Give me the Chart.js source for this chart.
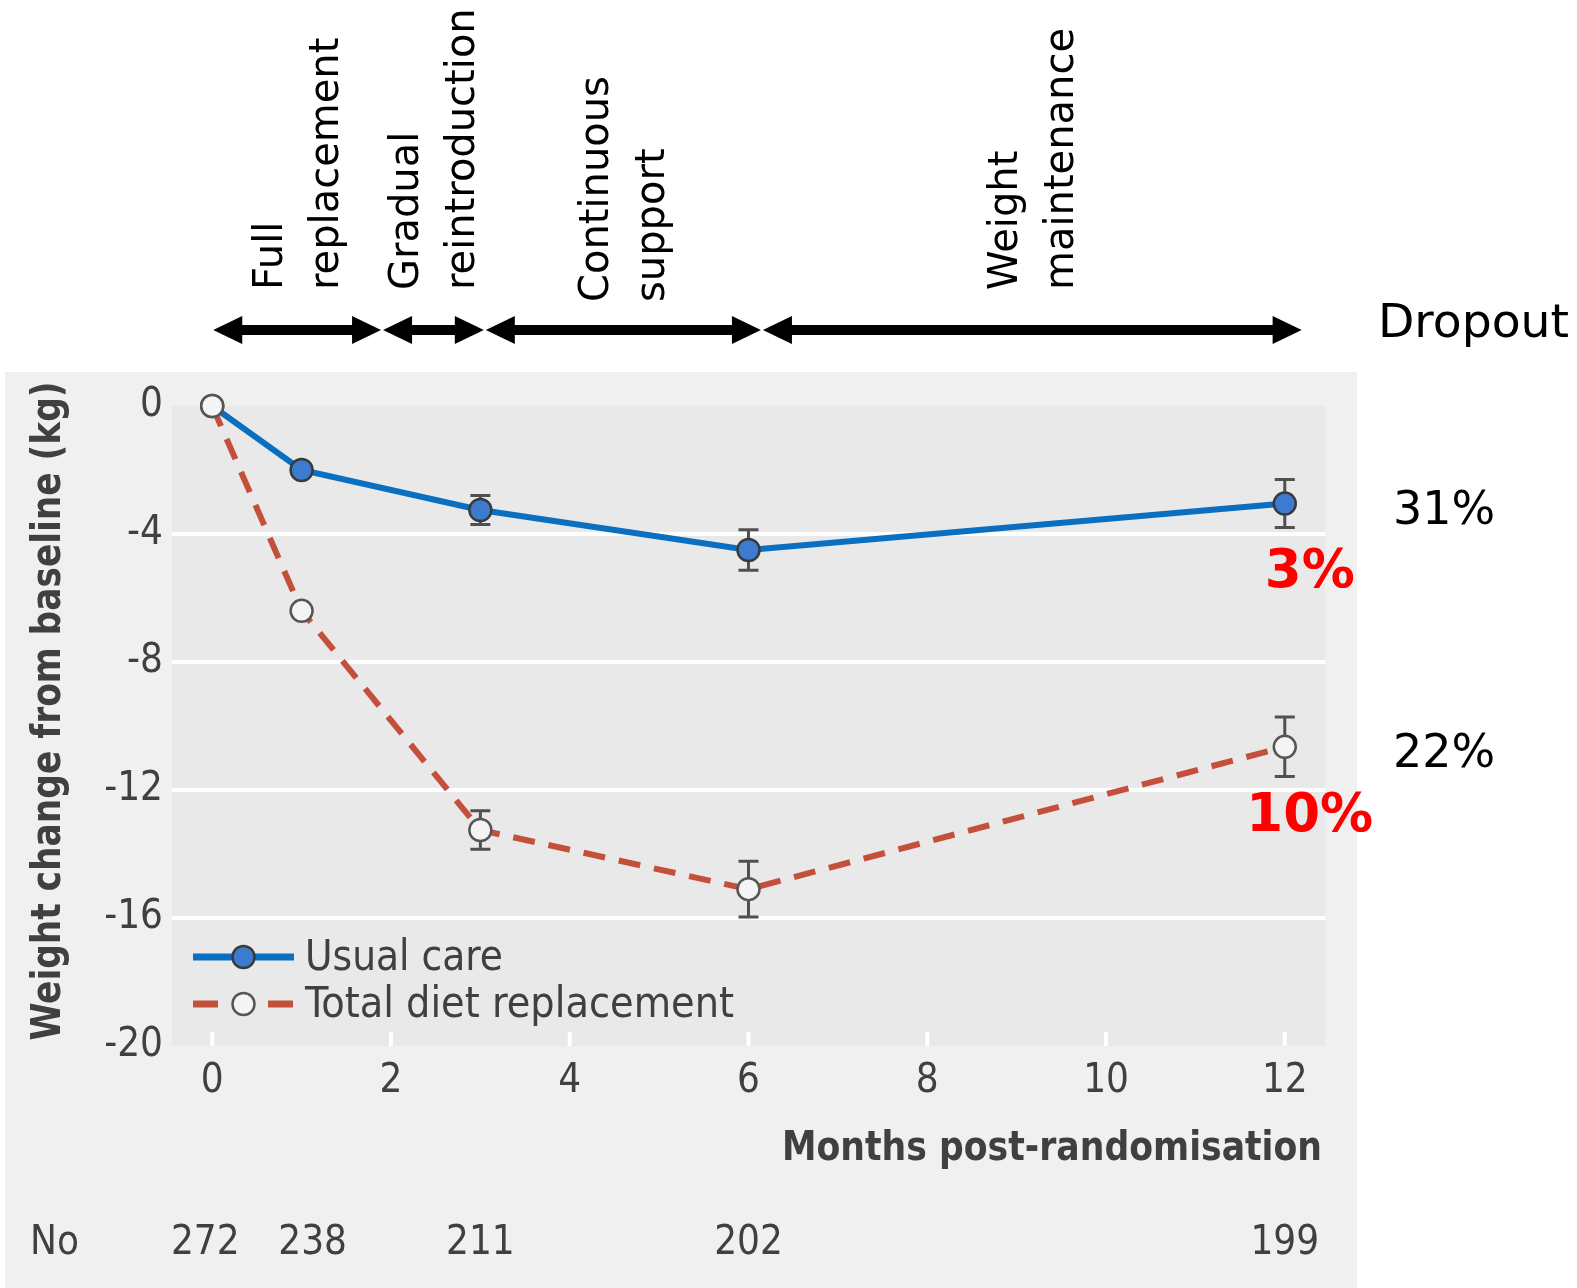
<!DOCTYPE html>
<html>
<head>
<meta charset="utf-8">
<script src="https://cdn.jsdelivr.net/npm/chart.js@4.4.1/dist/chart.umd.min.js"></script>
<style>
  html, body { margin: 0; padding: 0; background: #fff; }
</style>
</head>
<body>
<canvas id="weightChart" width="1577" height="1288"></canvas>
<script>
// values
const months = [0, 1, 3, 6, 12];
const xTicks = [0, 2, 4, 6, 8, 10, 12];
const yTicks = [0, -4, -8, -12, -16, -20];
const usualCare = [0, -2.0, -3.25, -4.5, -3.05];
const usualCareErr = [0, 0.15, 0.45, 0.63, 0.75];
const totalDiet = [0, -6.4, -13.25, -15.1, -10.65];
const totalDietErr = [0, 0.15, 0.6, 0.87, 0.93];
const numberAtRisk = [272, 238, 211, 202, 199];
const seriesNames = ['Usual care', 'Total diet replacement'];
const phaseNames = [['Full', 'replacement'], ['Gradual', 'reintroduction'], ['Continuous', 'support'], ['Weight', 'maintenance']];
const phaseBounds = [0, 1.9, 3.05, 6.15, 12.2];
const dropoutAll = ['31%', '22%'];
const dropoutRed = ['3%', '10%'];

const GREY_TEXT = '#404040';
const COND = '"DejaVu Sans Condensed", "DejaVu Sans", sans-serif';
const BLUE = '#0a6fc0';
const RED = '#c4503c';

function fitText(ctx, text, x, y, width, align) {
    const w = ctx.measureText(text).width;
    ctx.save();
    ctx.translate(x, y);
    ctx.scale(width / w, 1);
    ctx.textAlign = align;
    ctx.fillText(text, 0, 0);
    ctx.restore();
}

function drawMarker(ctx, x, y, filled) {
    ctx.save();
    ctx.beginPath();
    ctx.arc(x, y, 11, 0, Math.PI * 2);
    ctx.fillStyle = filled ? '#3d7bd0' : '#f4f4f4';
    ctx.fill();
    ctx.lineWidth = 2.5;
    ctx.strokeStyle = filled ? '#3a3a3a' : '#555';
    ctx.stroke();
    ctx.restore();
}

const decor = {
    id: 'decor',
    beforeDraw(chart) {
        const {ctx, chartArea: a} = chart;
        ctx.save();
        ctx.fillStyle = '#fff';
        ctx.fillRect(0, 0, chart.width, chart.height);
        ctx.fillStyle = '#f0f0f0';
        ctx.fillRect(5, 372, 1352, 916);
        ctx.fillStyle = '#e9e9e9';
        ctx.fillRect(a.left, a.top, a.right - a.left, a.bottom - a.top);
        ctx.restore();
    },
    beforeDatasetsDraw(chart) {
        const {ctx, chartArea: a, scales: {x, y}} = chart;
        ctx.save();
        // white tick marks at the bottom of the plot
        ctx.fillStyle = '#fff';
        xTicks.forEach(t => {
            const px = x.getPixelForValue(t);
            ctx.fillRect(px - 2, a.bottom - 14, 4, 14);
        });
        // error bars
        const sets = [[usualCare, usualCareErr], [totalDiet, totalDietErr]];
        ctx.strokeStyle = '#505050';
        ctx.lineWidth = 3;
        sets.forEach(([vals, errs]) => {
            months.forEach((m, j) => {
                if (!errs[j]) return;
                const px = x.getPixelForValue(m);
                const top = y.getPixelForValue(vals[j] + errs[j]);
                const bot = y.getPixelForValue(vals[j] - errs[j]);
                ctx.beginPath();
                ctx.moveTo(px, top); ctx.lineTo(px, bot);
                ctx.moveTo(px - 10, top); ctx.lineTo(px + 10, top);
                ctx.moveTo(px - 10, bot); ctx.lineTo(px + 10, bot);
                ctx.stroke();
            });
        });
        ctx.restore();
    },
    afterDraw(chart) {
        const {ctx, chartArea: a, scales: {x, y}} = chart;
        ctx.save();

        // legend
        const rows = [a.bottom - 89, a.bottom - 42];
        const lx0 = a.left + 21, lx1 = a.left + 122;
        ctx.lineWidth = 7;
        ctx.strokeStyle = BLUE;
        ctx.beginPath(); ctx.moveTo(lx0, rows[0]); ctx.lineTo(lx1, rows[0]); ctx.stroke();
        drawMarker(ctx, (lx0 + lx1) / 2, rows[0], true);
        ctx.lineWidth = 7;
        ctx.strokeStyle = RED;
        ctx.setLineDash([25, 50]);
        ctx.beginPath(); ctx.moveTo(lx0, rows[1]); ctx.lineTo(lx1, rows[1]); ctx.stroke();
        ctx.setLineDash([]);
        drawMarker(ctx, (lx0 + lx1) / 2, rows[1], false);
        ctx.fillStyle = GREY_TEXT;
        ctx.font = '42px ' + COND;
        ctx.textBaseline = 'middle';
        fitText(ctx, seriesNames[0], a.left + 133, rows[0] + 2, 198, 'left');
        fitText(ctx, seriesNames[1], a.left + 133, rows[1] + 2, 429, 'left');

        // axis titles
        ctx.font = 'bold 40px ' + COND;
        fitText(ctx, 'Months post-randomisation', 1322, 1150, 540, 'right');
        ctx.save();
        ctx.translate(50, 711);
        ctx.rotate(-Math.PI / 2);
        fitText(ctx, 'Weight change from baseline (kg)', 0, 0, 659, 'center');
        ctx.restore();

        // numbers at risk
        ctx.font = '40px ' + COND;
        ctx.textAlign = 'left';
        ctx.fillText('No', 30, 1244);
        const nudge = [-7, 11, 0, 0, 0];
        ctx.textAlign = 'center';
        numberAtRisk.forEach((n, j) => {
            ctx.fillText(String(n), x.getPixelForValue(months[j]) + nudge[j], 1244);
        });

        // phase arrows
        const ay = 330, head = 29, half = 14;
        ctx.fillStyle = '#000';
        for (let k = 0; k < phaseNames.length; k++) {
            const x1 = x.getPixelForValue(phaseBounds[k]) + 1;
            const x2 = x.getPixelForValue(phaseBounds[k + 1]) - 1;
            ctx.fillRect(x1 + head - 2, ay - 5, x2 - x1 - 2 * head + 4, 10);
            ctx.beginPath();
            ctx.moveTo(x1, ay); ctx.lineTo(x1 + head, ay - half); ctx.lineTo(x1 + head, ay + half);
            ctx.closePath(); ctx.fill();
            ctx.beginPath();
            ctx.moveTo(x2, ay); ctx.lineTo(x2 - head, ay - half); ctx.lineTo(x2 - head, ay + half);
            ctx.closePath(); ctx.fill();
        }

        // phase labels, rotated
        ctx.font = '40px "DejaVu Sans", sans-serif';
        ctx.textAlign = 'left';
        ctx.textBaseline = 'alphabetic';
        const drop = [0, 0, 12, 0];
        phaseNames.forEach((lines, k) => {
            const c = (x.getPixelForValue(phaseBounds[k]) + x.getPixelForValue(phaseBounds[k + 1])) / 2;
            const bases = [c - 15, c + 41];
            lines.forEach((t, i) => {
                ctx.save();
                ctx.translate(bases[i], 290 + drop[k]);
                ctx.rotate(-Math.PI / 2);
                ctx.fillText(t, 0, 0);
                ctx.restore();
            });
        });

        // dropout
        ctx.font = '46px "DejaVu Sans", sans-serif';
        ctx.textBaseline = 'middle';
        fitText(ctx, 'Dropout', 1378, 325, 191, 'left');
        const last = months.length - 1;
        const lastY = [y.getPixelForValue(usualCare[last]), y.getPixelForValue(totalDiet[last])];
        dropoutAll.forEach((t, i) => {
            ctx.textAlign = 'left';
            ctx.fillText(t, a.right + 68, lastY[i] + 8);
        });
        ctx.fillStyle = '#ff0000';
        ctx.font = 'bold 53px "DejaVu Sans", sans-serif';
        ctx.textAlign = 'center';
        dropoutRed.forEach((t, i) => {
            ctx.fillText(t, x.getPixelForValue(12) + 25, lastY[i] + 70);
        });

        ctx.restore();
    }
};

const ctx = document.getElementById('weightChart');
const chart = new Chart(ctx, {
    type: 'line',
    data: {
        datasets: [
            {
                label: seriesNames[0],
                data: months.map((m, i) => ({x: m, y: usualCare[i]})),
                borderColor: BLUE,
                borderWidth: 6,
                pointRadius: 11,
                pointBorderWidth: 2.5,
                pointBackgroundColor: '#3d7bd0',
                pointBorderColor: '#3a3a3a',
                clip: false,
                order: 2
            },
            {
                label: seriesNames[1],
                data: months.map((m, i) => ({x: m, y: totalDiet[i]})),
                borderColor: RED,
                borderWidth: 6,
                borderDash: [22, 14],
                pointRadius: 11,
                pointBorderWidth: 2.5,
                pointBackgroundColor: '#f4f4f4',
                pointBorderColor: '#555',
                clip: false,
                order: 1
            }
        ]
    },
    options: {
        responsive: false,
        animation: false,
        layout: {padding: {top: 406, right: 252, bottom: 182, left: 0}},
        plugins: {legend: {display: false}, tooltip: {enabled: false}},
        scales: {
            x: {
                type: 'linear',
                min: -0.45,
                max: 12.45,
                afterBuildTicks: s => { s.ticks = xTicks.map(v => ({value: v})); },
                afterFit: s => { s.height = 60; },
                grid: {display: false, drawTicks: false},
                border: {display: false},
                ticks: {padding: 12, color: GREY_TEXT, font: {family: COND, size: 40}}
            },
            y: {
                min: -20,
                max: 0,
                afterBuildTicks: s => { s.ticks = yTicks.map(v => ({value: v})); },
                afterFit: s => { s.width = 172; },
                grid: {
                    drawTicks: false,
                    lineWidth: 4,
                    color: c => (c.tick && (c.tick.value === 0 || c.tick.value === -20)) ? 'rgba(0,0,0,0)' : '#ffffff'
                },
                border: {display: false},
                ticks: {padding: 9, color: GREY_TEXT, font: {family: COND, size: 40}}
            }
        }
    },
    plugins: [decor]
});
</script>
</body>
</html>
